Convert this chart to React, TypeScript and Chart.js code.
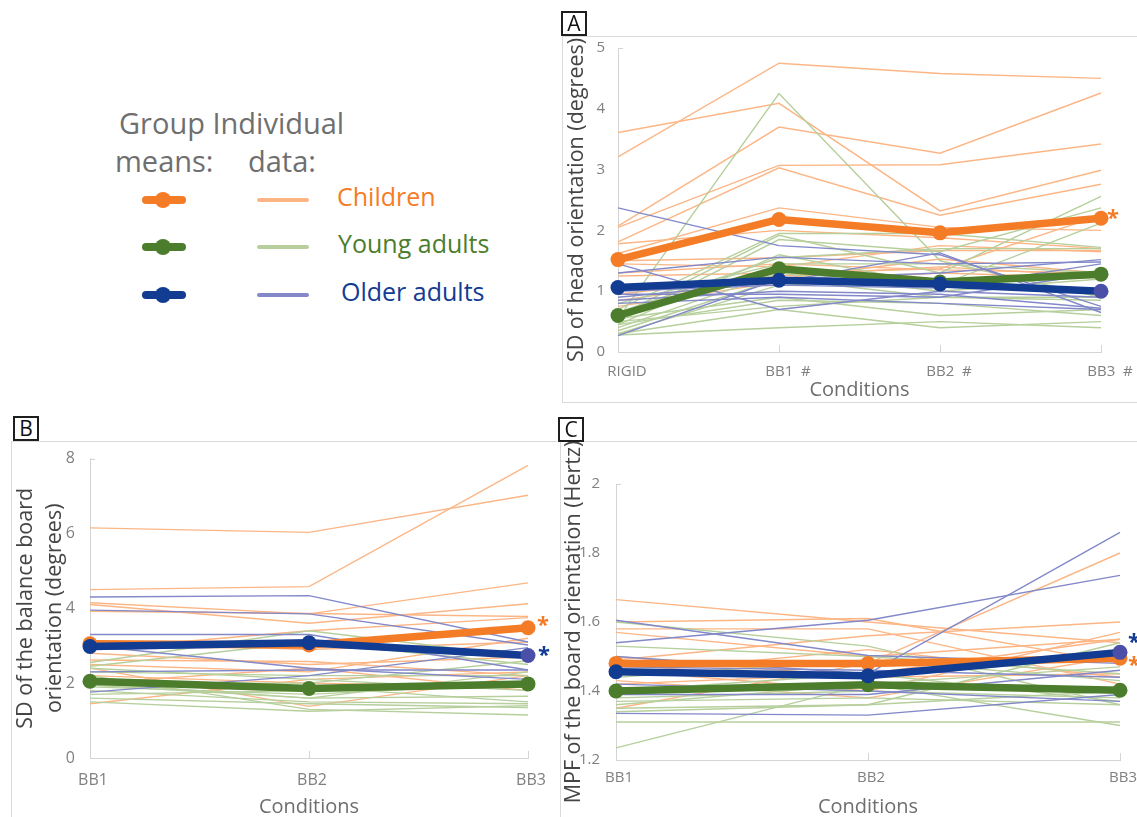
import React, { useEffect, useRef } from "react";
import { Chart, registerables } from "chart.js";

Chart.register(...registerables);

const FONT = '"Open Sans", "Noto Sans", "DejaVu Sans", sans-serif';
Chart.defaults.font.family = FONT;

// ---------- colours ----------
const ORANGE = "#F47C26";
const GREEN = "#4C7D2C";
const NAVY = "#123B92";
const NAVY_LAST = "#4A4FA8";
const L_ORANGE = "#FCB686";
const L_GREEN = "#B6CF9C";
const L_BLUE = "#8288C8";
const AXIS = "#D4D4D4";
const TICK = "#808080";
const YTITLE = "#454545";
const XTITLE = "#6E6E6E";

// ---------- Panel A : SD of head orientation ----------
const condA = ["RIGID", "BB1  #", "BB2  #", "BB3  #"];
const meanChildrenA = [1.52, 2.18, 1.96, 2.2];
const meanYoungA = [0.6, 1.37, 1.15, 1.28];
const meanOlderA = [1.06, 1.18, 1.12, 1.0];
const childrenA = [
  [3.21, 4.75, 4.58, 4.5],
  [3.61, 4.09, 2.32, 2.99],
  [2.07, 3.7, 3.27, 4.26],
  [2.05, 3.07, 3.08, 3.42],
  [1.81, 3.03, 2.25, 2.76],
  [1.62, 2.37, 2.05, 2.0],
  [1.78, 2.0, 1.88, 1.7],
  [1.5, 1.55, 1.67, 1.67],
  [1.45, 1.4, 1.75, 1.65],
  [1.25, 1.3, 1.37, 2.25],
  [0.85, 1.2, 1.53, 1.3],
  [0.75, 1.15, 1.3, 1.22],
  [1.3, 1.45, 1.35, 1.3],
  [0.95, 1.25, 1.4, 1.25],
];
const youngA = [
  [0.55, 4.25, 1.5, 0.9],
  [0.7, 1.95, 1.95, 1.72],
  [0.6, 1.92, 1.3, 2.56],
  [0.5, 1.85, 1.65, 2.37],
  [0.45, 1.6, 1.1, 2.12],
  [0.65, 1.55, 1.7, 1.7],
  [0.8, 1.45, 1.45, 1.3],
  [0.4, 1.3, 1.0, 1.2],
  [0.35, 1.2, 0.9, 0.85],
  [0.3, 1.1, 1.2, 1.0],
  [0.55, 0.9, 0.6, 0.7],
  [0.45, 0.85, 0.8, 0.6],
  [0.3, 0.7, 0.4, 0.5],
  [0.28, 0.4, 0.5, 0.4],
  [0.5, 0.75, 0.9, 0.9],
];
const olderA = [
  [2.37, 1.75, 1.6, 0.75],
  [1.45, 0.7, 1.0, 0.9],
  [1.3, 1.56, 1.45, 1.48],
  [0.9, 1.15, 1.63, 0.65],
  [0.27, 1.2, 1.3, 1.52],
  [0.95, 0.95, 0.9, 1.3],
  [0.8, 0.9, 0.8, 0.7],
  [1.0, 1.1, 1.05, 1.45],
  [0.85, 1.0, 0.95, 0.72],
];

// ---------- Panel B : SD of balance board orientation ----------
const condB = ["BB1", "BB2", "BB3"];
const meanChildrenB = [3.05, 3.02, 3.48];
const meanYoungB = [2.05, 1.86, 1.98];
const meanOlderB = [2.98, 3.08, 2.74];
const childrenB = [
  [6.15, 6.03, 7.02],
  [4.5, 4.58, 7.82],
  [4.15, 3.85, 4.68],
  [4.1, 3.6, 4.12],
  [3.92, 3.86, 3.78],
  [2.9, 3.4, 3.75],
  [2.62, 2.58, 2.2],
  [2.5, 2.3, 3.2],
  [2.2, 2.0, 1.9],
  [1.45, 2.1, 2.3],
  [2.8, 2.5, 2.7],
  [2.4, 1.38, 2.2],
  [2.0, 2.4, 1.8],
  [3.1, 2.9, 3.1],
];
const youngB = [
  [2.55, 3.4, 2.7],
  [2.45, 3.1, 2.5],
  [2.0, 2.0, 2.6],
  [1.95, 1.6, 2.3],
  [1.9, 1.7, 2.0],
  [2.1, 1.9, 1.5],
  [1.8, 1.5, 1.45],
  [1.5, 1.25, 1.4],
  [2.2, 1.3, 1.15],
  [1.6, 1.45, 1.35],
  [2.4, 2.1, 1.8],
  [1.7, 1.8, 1.9],
  [2.3, 2.2, 2.2],
  [2.0, 1.6, 1.65],
];
const olderB = [
  [4.3, 4.34, 3.1],
  [3.95, 3.85, 3.02],
  [3.3, 3.3, 2.35],
  [3.0, 2.4, 2.1],
  [2.3, 2.35, 2.35],
  [1.76, 2.2, 2.95],
  [2.9, 3.0, 2.7],
];

// ---------- Panel C : MPF of board orientation ----------
const condC = ["BB1", "BB2", "BB3"];
const meanChildrenC = [1.48, 1.48, 1.495];
const meanYoungC = [1.4, 1.418, 1.402];
const meanOlderC = [1.456, 1.444, 1.512];
const childrenC = [
  [1.665, 1.6, 1.54],
  [1.6, 1.61, 1.48],
  [1.58, 1.58, 1.42],
  [1.57, 1.5, 1.55],
  [1.35, 1.48, 1.8],
  [1.49, 1.56, 1.6],
  [1.46, 1.4, 1.57],
  [1.43, 1.38, 1.5],
  [1.45, 1.52, 1.44],
  [1.42, 1.45, 1.55],
  [1.5, 1.44, 1.45],
];
const youngC = [
  [1.235, 1.42, 1.47],
  [1.53, 1.5, 1.45],
  [1.6, 1.53, 1.36],
  [1.35, 1.36, 1.54],
  [1.31, 1.31, 1.31],
  [1.36, 1.42, 1.3],
  [1.38, 1.4, 1.38],
  [1.4, 1.45, 1.37],
  [1.46, 1.44, 1.5],
  [1.37, 1.38, 1.36],
  [1.44, 1.49, 1.43],
  [1.34, 1.36, 1.4],
];
const olderC = [
  [1.605, 1.503, 1.48],
  [1.54, 1.605, 1.735],
  [1.5, 1.45, 1.86],
  [1.335, 1.33, 1.39],
  [1.42, 1.4, 1.37],
  [1.39, 1.39, 1.46],
  [1.47, 1.46, 1.44],
];

// ---------- helpers ----------
function indiv(rows: number[][], color: string, order: number) {
  return rows.map((r) => ({
    data: r,
    borderColor: color,
    backgroundColor: color,
    borderWidth: 1.4,
    pointRadius: 0,
    tension: 0,
    order,
    clip: false as any,
  }));
}

function mean(vals: number[], color: string, order: number, lastColor?: string) {
  return {
    data: vals,
    borderColor: color,
    backgroundColor: color,
    borderWidth: 7.5,
    borderCapStyle: "round" as const,
    borderJoinStyle: "round" as const,
    pointRadius: 7.5,
    pointBorderWidth: 0,
    pointBackgroundColor: vals.map((_, i) =>
      i === vals.length - 1 && lastColor ? lastColor : color
    ),
    tension: 0,
    order,
    clip: false as any,
  };
}

type Star = { ds: number; color: string; dx: number; dy: number };

const decorPlugin = {
  id: "decor",
  beforeDatasetsDraw(chart: any) {
    const { ctx } = chart;
    const xs = chart.scales.x;
    const ys = chart.scales.y;
    ctx.save();
    ctx.strokeStyle = AXIS;
    ctx.lineWidth = 1;
    xs.ticks.forEach((_: any, i: number) => {
      if (i === 0) return;
      const px = Math.round(xs.getPixelForTick(i)) + 0.5;
      ctx.beginPath();
      ctx.moveTo(px, ys.bottom);
      ctx.lineTo(px, ys.bottom - 7);
      ctx.stroke();
    });
    const top = Math.round(ys.getPixelForValue(ys.max)) + 0.5;
    ctx.beginPath();
    ctx.moveTo(xs.left, top);
    ctx.lineTo(xs.left + 5, top);
    ctx.stroke();
    ctx.restore();
  },
  afterDraw(chart: any, _args: any, opts: any) {
    const stars: Star[] = (opts && opts.stars) || [];
    const { ctx } = chart;
    ctx.save();
    const fs = 22;
    ctx.font = `bold ${fs}px ${FONT}`;
    ctx.textAlign = "center";
    ctx.textBaseline = "alphabetic";
    for (const s of stars) {
      const meta = chart.getDatasetMeta(s.ds);
      const pt = meta.data[meta.data.length - 1];
      ctx.fillStyle = s.color;
      ctx.fillText("*", pt.x + s.dx, pt.y + s.dy + fs * 0.56);
    }
    ctx.restore();
  },
};

type PanelSpec = {
  left: number;
  top: number;
  width: number;
  height: number;
  labels: string[];
  children: number[][];
  young: number[][];
  older: number[][];
  mChildren: number[];
  mYoung: number[];
  mOlder: number[];
  yMin: number;
  yMax: number;
  yStep: number;
  yTitle: string | string[];
  yTitleLH: number;
  yTitlePad: number;
  yWidth: number;
  xHeight: number;
  padTop: number;
  padRight: number;
  tickSize: number;
  yTickPad: number;
  xTickPad: number;
  xLabelOffset: number;
  xTitlePad: number;
  stars: { group: "children" | "older"; color: string; dx: number; dy: number }[];
};

function Panel({ spec }: { spec: PanelSpec }) {
  const ref = useRef<HTMLCanvasElement | null>(null);
  useEffect(() => {
    if (!ref.current) return;
    const datasets: any[] = [
      ...indiv(spec.children, L_ORANGE, 12),
      ...indiv(spec.young, L_GREEN, 11),
      ...indiv(spec.older, L_BLUE, 10),
    ];
    const iChildren = datasets.length;
    datasets.push(mean(spec.mChildren, ORANGE, 3));
    datasets.push(mean(spec.mYoung, GREEN, 2));
    const iOlder = datasets.length;
    datasets.push(mean(spec.mOlder, NAVY, 1, NAVY_LAST));

    const stars: Star[] = spec.stars.map((s) => ({
      ds: s.group === "children" ? iChildren : iOlder,
      color: s.color,
      dx: s.dx,
      dy: s.dy,
    }));

    const chart = new Chart(ref.current, {
      type: "line",
      data: { labels: spec.labels, datasets },
      plugins: [decorPlugin as any],
      options: {
        responsive: false,
        animation: false,
        events: [],
        layout: {
          padding: { left: 0, top: spec.padTop, right: spec.padRight, bottom: 0 },
        },
        plugins: {
          legend: { display: false },
          tooltip: { enabled: false },
          decor: { stars },
        } as any,
        scales: {
          x: {
            type: "category",
            offset: false,
            grid: { display: false },
            border: { display: true, color: AXIS, width: 1 },
            ticks: {
              color: TICK,
              font: { size: spec.tickSize, family: FONT },
              padding: spec.xTickPad,
              labelOffset: spec.xLabelOffset,
              autoSkip: false,
              maxRotation: 0,
              minRotation: 0,
            },
            title: {
              display: true,
              text: "Conditions",
              color: XTITLE,
              font: { size: 20, family: FONT, lineHeight: 1 },
              padding: { top: 0, bottom: spec.xTitlePad },
            },
            afterFit: (s: any) => {
              s.height = spec.xHeight;
            },
          },
          y: {
            type: "linear",
            min: spec.yMin,
            max: spec.yMax,
            grid: { display: false },
            border: { display: true, color: AXIS, width: 1 },
            ticks: {
              stepSize: spec.yStep,
              color: TICK,
              font: { size: spec.tickSize, family: FONT },
              padding: spec.yTickPad,
              callback: (v: any) => String(Number(Number(v).toFixed(2))),
            },
            title: {
              display: true,
              text: spec.yTitle,
              color: YTITLE,
              font: { size: 21.5, family: FONT, lineHeight: spec.yTitleLH },
              padding: { top: spec.yTitlePad, bottom: 0 },
            },
            afterFit: (s: any) => {
              s.width = spec.yWidth;
            },
          },
        },
      } as any,
    });
    return () => chart.destroy();
  }, [spec]);
  return (
    <canvas
      ref={ref}
      width={spec.width}
      height={spec.height}
      style={{
        position: "absolute",
        left: spec.left,
        top: spec.top,
        width: spec.width,
        height: spec.height,
      }}
    />
  );
}

const panelA: PanelSpec = {
  left: 563,
  top: 34,
  width: 574,
  height: 367,
  labels: condA,
  children: childrenA,
  young: youngA,
  older: olderA,
  mChildren: meanChildrenA,
  mYoung: meanYoungA,
  mOlder: meanOlderA,
  yMin: 0,
  yMax: 5,
  yStep: 1,
  yTitle: "SD of head orientation (degrees)",
  yTitleLH: 1.2,
  yTitlePad: 1,
  yWidth: 55,
  xHeight: 49,
  padTop: 10,
  padRight: 36,
  tickSize: 15,
  yTickPad: 5,
  xTickPad: 3,
  xLabelOffset: 9,
  xTitlePad: 1,
  stars: [{ group: "children", color: ORANGE, dx: 12, dy: -6 }],
};

const panelB: PanelSpec = {
  left: 11,
  top: 442,
  width: 545,
  height: 375,
  labels: condB,
  children: childrenB,
  young: youngB,
  older: olderB,
  mChildren: meanChildrenB,
  mYoung: meanYoungB,
  mOlder: meanOlderB,
  yMin: 0,
  yMax: 8,
  yStep: 2,
  yTitle: ["SD of the balance board", "orientation (degrees)"],
  yTitleLH: 1.35,
  yTitlePad: 0,
  yWidth: 79,
  xHeight: 59,
  padTop: 13,
  padRight: 28,
  tickSize: 16,
  yTickPad: 7,
  xTickPad: 5,
  xLabelOffset: 3,
  xTitlePad: 0,
  stars: [
    { group: "children", color: ORANGE, dx: 15, dy: -8 },
    { group: "older", color: NAVY, dx: 16, dy: -6 },
  ],
};

const panelC: PanelSpec = {
  left: 561,
  top: 442,
  width: 576,
  height: 375,
  labels: condC,
  children: childrenC,
  young: youngC,
  older: olderC,
  mChildren: meanChildrenC,
  mYoung: meanYoungC,
  mOlder: meanOlderC,
  yMin: 1.2,
  yMax: 2,
  yStep: 0.2,
  yTitle: "MPF of the board orientation (Hertz)",
  yTitleLH: 1.2,
  yTitlePad: 0,
  yWidth: 55,
  xHeight: 57,
  padTop: 42,
  padRight: 17,
  tickSize: 15,
  yTickPad: 8,
  xTickPad: 1,
  xLabelOffset: 3,
  xTitlePad: 0,
  stars: [
    { group: "older", color: NAVY, dx: 14, dy: -16 },
    { group: "children", color: ORANGE, dx: 14, dy: 1 },
  ],
};

// ---------- legend ----------
const legendRows = [
  { label: "Children", mean: ORANGE, indiv: L_ORANGE, y: 200, textTop: 184, x: 337 },
  { label: "Young adults", mean: GREEN, indiv: L_GREEN, y: 247, textTop: 231, x: 338 },
  { label: "Older adults", mean: NAVY, indiv: L_BLUE, y: 295, textTop: 279, x: 341 },
];

function Legend() {
  const head: React.CSSProperties = {
    position: "absolute",
    fontFamily: FONT,
    fontSize: 29,
    lineHeight: "29px",
    color: "#6F6F6F",
    whiteSpace: "nowrap",
  };
  return (
    <>
      <div style={{ ...head, left: 119, top: 108 }}>Group Individual</div>
      <div style={{ ...head, left: 115, top: 146 }}>means:</div>
      <div style={{ ...head, left: 248, top: 146 }}>data:</div>
      {legendRows.map((r) => (
        <React.Fragment key={r.label}>
          <div
            style={{
              position: "absolute",
              left: 142,
              top: r.y - 4,
              width: 44,
              height: 8,
              borderRadius: 4,
              background: r.mean,
            }}
          />
          <div
            style={{
              position: "absolute",
              left: 155,
              top: r.y - 8,
              width: 16,
              height: 16,
              borderRadius: 8,
              background: r.mean,
            }}
          />
          <div
            style={{
              position: "absolute",
              left: 257,
              top: r.y - 2,
              width: 52,
              height: 4,
              borderRadius: 2,
              background: r.indiv,
            }}
          />
          <div
            style={{
              position: "absolute",
              left: r.x,
              top: r.textTop,
              fontFamily: FONT,
              fontSize: 25,
              lineHeight: "25px",
              color: r.mean,
              whiteSpace: "nowrap",
            }}
          >
            {r.label}
          </div>
        </React.Fragment>
      ))}
    </>
  );
}

function Box({ letter, left, top }: { letter: string; left: number; top: number }) {
  return (
    <div
      style={{
        position: "absolute",
        left,
        top,
        width: 26,
        height: 25,
        boxSizing: "border-box",
        border: "2px solid #1E1E1E",
        background: "#FFFFFF",
        fontFamily: FONT,
        fontSize: 21,
        lineHeight: "21px",
        textAlign: "center",
        color: "#111111",
        zIndex: 5,
      }}
    >
      {letter}
    </div>
  );
}

const FRAME = "1px solid #DADADA";

export default function App() {
  return (
    <div
      style={{
        position: "absolute",
        left: 0,
        top: 0,
        width: 1137,
        height: 817,
        overflow: "hidden",
        background: "#FFFFFF",
      }}
    >
      <div
        style={{
          position: "absolute",
          left: 562,
          top: 36,
          width: 600,
          height: 365,
          borderLeft: FRAME,
          borderTop: FRAME,
          borderBottom: FRAME,
        }}
      />
      <div
        style={{
          position: "absolute",
          left: 11,
          top: 441,
          width: 545,
          height: 400,
          borderLeft: FRAME,
          borderTop: FRAME,
        }}
      />
      <div
        style={{
          position: "absolute",
          left: 560,
          top: 441,
          width: 600,
          height: 400,
          borderLeft: FRAME,
          borderTop: FRAME,
        }}
      />

      <Legend />

      <Panel spec={panelA} />
      <Panel spec={panelB} />
      <Panel spec={panelC} />

      <Box letter="A" left={561} top={11} />
      <Box letter="B" left={13} top={416} />
      <Box letter="C" left={558} top={417} />
    </div>
  );
}
